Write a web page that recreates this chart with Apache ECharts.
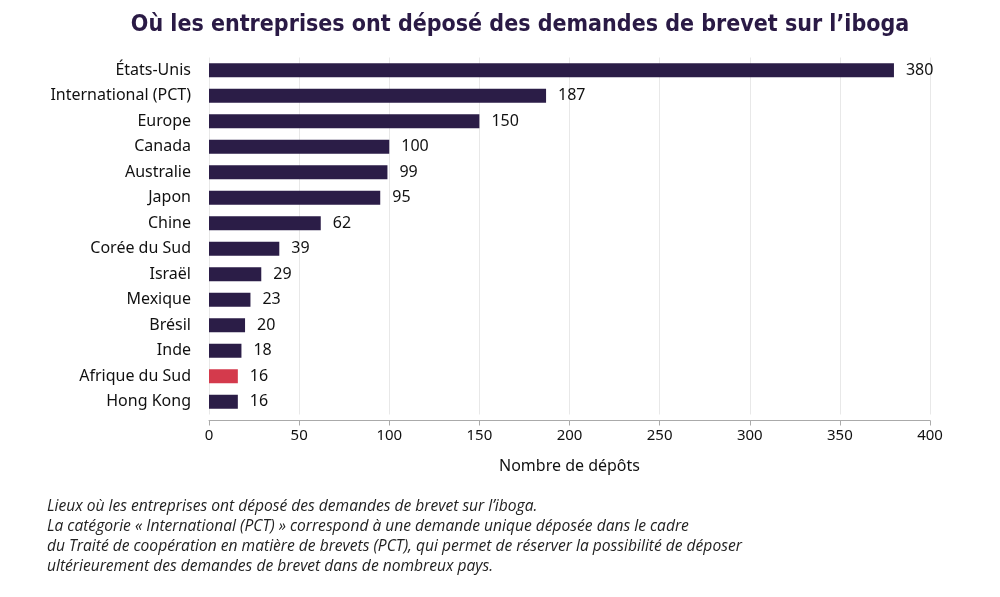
<!DOCTYPE html>
<html>
<head>
<meta charset="utf-8">
<script src="https://cdn.jsdelivr.net/npm/echarts@6/dist/echarts.min.js"></script>
<style>
  html, body { margin: 0; padding: 0; background: #fff; }
  #chart { width: 1000px; height: 597px; }
</style>
</head>
<body>
<div id="chart"></div>
<script>
// données : pays et nombre de dépôts
const pays = ['États-Unis', 'International (PCT)', 'Europe', 'Canada', 'Australie', 'Japon', 'Chine',
  'Corée du Sud', 'Israël', 'Mexique', 'Brésil', 'Inde', 'Afrique du Sud', 'Hong Kong'];
const depots = [380, 187, 150, 100, 99, 95, 62, 39, 29, 23, 20, 18, 16, 16];
const surligne = 'Afrique du Sud';
const xTicks = [0, 400, 50];

const violet = '#2b1d47';
const rouge = '#d43a4c';

const notes = [
  'Lieux où les entreprises ont déposé des demandes de brevet sur l’iboga.',
  'La catégorie « International (PCT) » correspond à une demande unique déposée dans le cadre',
  'du Traité de coopération en matière de brevets (PCT), qui permet de réserver la possibilité de déposer',
  'ultérieurement des demandes de brevet dans de nombreux pays.'
];

const chart = echarts.init(document.getElementById('chart'));

chart.setOption({
  animation: false,
  backgroundColor: '#fff',
  title: {
    text: 'Où les entreprises ont déposé des demandes de brevet sur l’iboga',
    left: 515,
    textAlign: 'center',
    top: 9,
    textStyle: {
      fontFamily: '"Liberation Sans Narrow", "DejaVu Sans Condensed", sans-serif',
      fontWeight: 'bold',
      fontSize: 23,
      color: '#2a1a45'
    }
  },
  grid: { left: 209, right: 70, top: 57.5, bottom: 182.5, containLabel: false },
  xAxis: {
    type: 'value',
    min: xTicks[0],
    max: xTicks[1],
    interval: xTicks[2],
    offset: 6,
    name: 'Nombre de dépôts',
    nameLocation: 'middle',
    nameGap: 38,
    nameTextStyle: { fontFamily: '"Noto Sans", sans-serif', fontSize: 16, color: '#111' },
    axisLine: { show: true, lineStyle: { color: '#aaa', width: 1 } },
    axisTick: { show: true, length: 5, lineStyle: { color: '#aaa' } },
    axisLabel: { fontFamily: '"Noto Sans", sans-serif', fontSize: 15, color: '#111', margin: 8 },
    splitLine: { show: true, lineStyle: { color: '#e8e8e8', width: 1 } }
  },
  yAxis: {
    type: 'category',
    data: pays,
    inverse: true,
    axisLine: { show: false },
    axisTick: { show: false },
    axisLabel: { fontFamily: '"Noto Sans", sans-serif', fontSize: 16, color: '#111', margin: 18 }
  },
  series: [{
    type: 'bar',
    barWidth: 14,
    data: depots.map((v, i) => ({
      value: v,
      itemStyle: { color: pays[i] === surligne ? rouge : violet }
    })),
    label: {
      show: true,
      position: 'right',
      distance: 12,
      fontFamily: '"Noto Sans", sans-serif',
      fontSize: 16,
      color: '#111'
    }
  }],
  graphic: notes.map((t, i) => ({
    type: 'text',
    left: 47,
    top: 499 + i * 20,
    style: {
      text: t,
      fontFamily: '"Open Sans", Lato, sans-serif',
      fontStyle: 'italic',
      fontSize: 15.6,
      fill: '#222'
    }
  }))
});
</script>
</body>
</html>
